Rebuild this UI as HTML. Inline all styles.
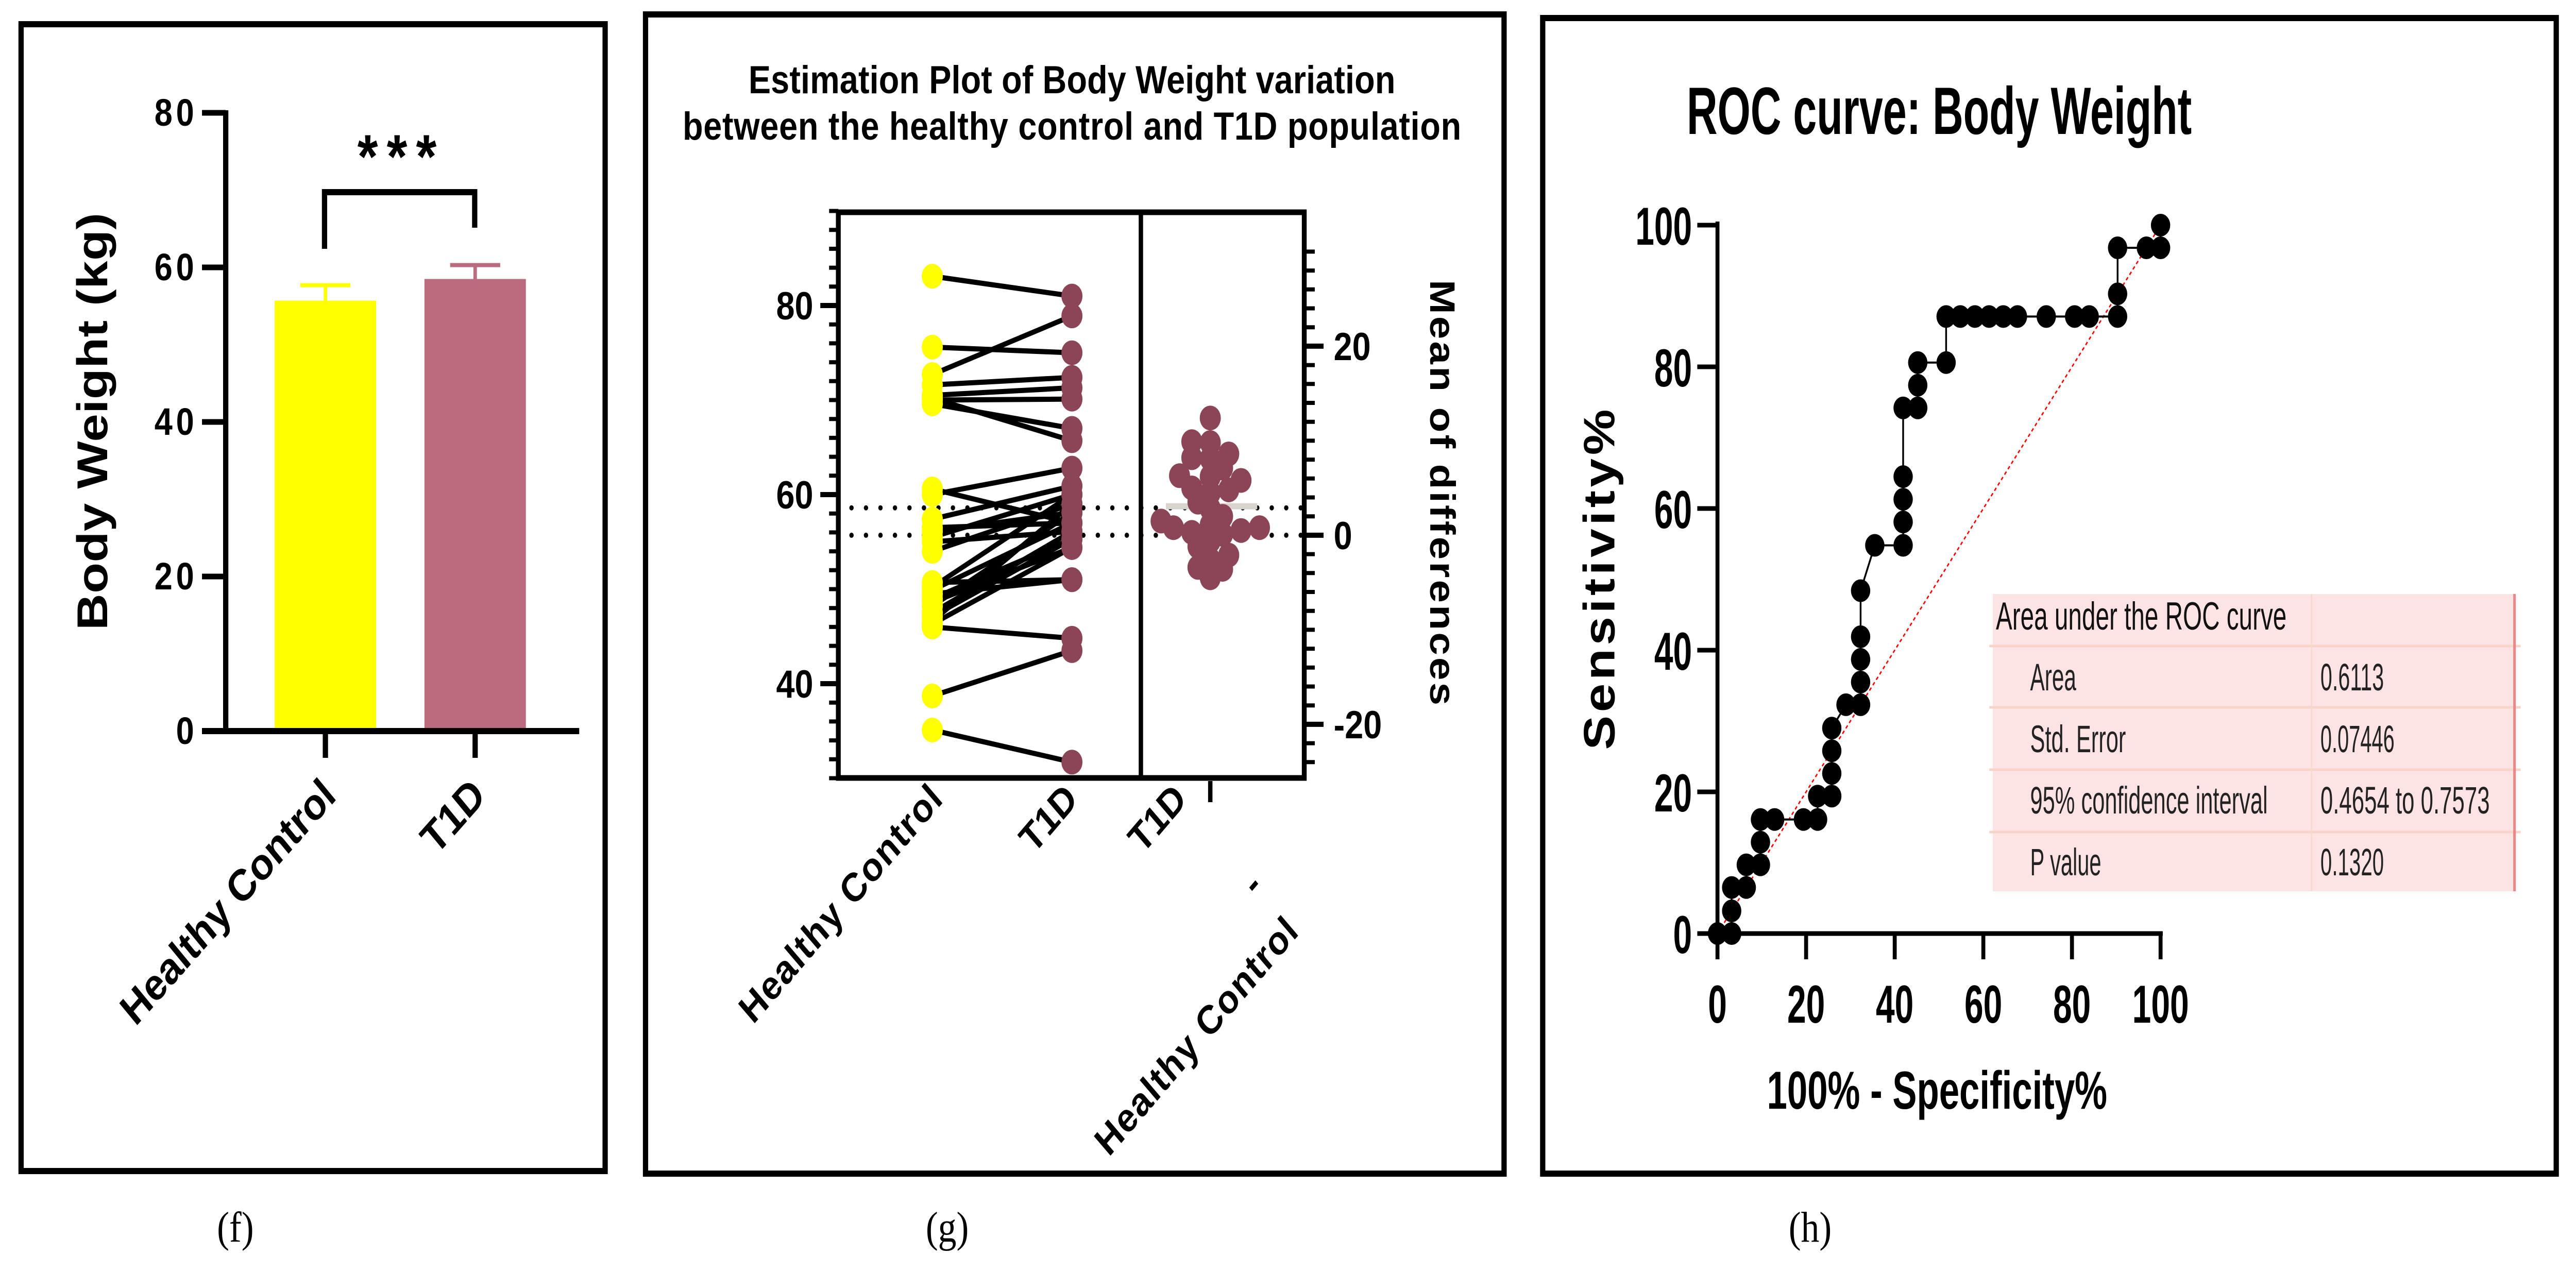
<!DOCTYPE html>
<html><head><meta charset="utf-8"><meta name="viewport" content="width=device-width, initial-scale=1"><style>
html,body{margin:0;padding:0;background:#fff;width:100%;height:100%;overflow:hidden;}
svg{display:block;width:100vw;height:100vh;}
text{font-family:"Liberation Sans",sans-serif;}
</style></head><body>
<svg id="fig" viewBox="0 0 5866 2467" preserveAspectRatio="none" xmlns="http://www.w3.org/2000/svg">
<rect x="0" y="0" width="5866" height="2467" fill="#fff"/>
<rect x="48" y="47" width="1330" height="2226" fill="none" stroke="#000" stroke-width="12"/>
<rect x="1470" y="28" width="1955" height="2250" fill="none" stroke="#000" stroke-width="12"/>
<rect x="3513" y="35" width="2308" height="2243" fill="none" stroke="#000" stroke-width="12"/>
<text x="536" y="2410" font-size="84" text-anchor="middle" style="font-family:'Liberation Serif',serif">(f)</text>
<text x="2157" y="2410" font-size="84" text-anchor="middle" style="font-family:'Liberation Serif',serif">(g)</text>
<text x="4122" y="2410" font-size="84" text-anchor="middle" style="font-family:'Liberation Serif',serif">(h)</text>

<g id="pf"></g>
<g id="pg">
<text x="2441" y="181" font-size="76" font-weight="bold" text-anchor="middle" textLength="1473">Estimation Plot of Body Weight variation</text>
<text x="2441" y="271" font-size="76" font-weight="bold" text-anchor="middle" textLength="1773">between the healthy control and T1D population</text>
</g>
<g id="ph">
<text x="3841" y="260" font-size="130" font-weight="bold" textLength="1150" lengthAdjust="spacingAndGlyphs">ROC curve: Body Weight</text>
</g>
</svg>
<script>
const NS="http://www.w3.org/2000/svg";
function mk(p,tag,a,txt){const e=document.createElementNS(NS,tag);for(const k in a)e.setAttribute(k,a[k]);if(txt!==undefined)e.textContent=txt;p.appendChild(e);return e;}

/* ---------- Panel f data ---------- */
const barCategories=["Healthy Control","T1D"];
const barMeans=[55.7,58.5];
const barErrors=[2.0,1.8];
const barColors=["#ffff00","#bb6b7e"];
const barTicks=[0,20,40,60,80];

/* ---------- Panel g data ---------- */
const hcWeights=[83.1,75.6,72.7,71.6,70.5,70.0,69.6,70.2,60.6,60.0,57.4,56.1,55.0,54.0,50.7,50.2,49.9,49.0,48.6,48.2,47.5,47.1,46.6,46.0,38.7,35.1,46.3,49.5,56.5,55.5];
const t1dWeights=[81.0,75.0,78.9,72.4,71.3,70.1,67.0,65.7,57.0,62.8,60.9,58.1,56.1,59.0,51.0,60.0,57.0,55.3,54.4,58.1,56.1,55.3,59.0,44.8,43.5,31.7,54.4,51.0,57.0,60.0];
const groupMeans=[55.7,58.6];
const leftTicks=[40,60,80];
const rightTicks=[-20,0,20];

/* ---------- Panel h data ---------- */
const rocFpr=[0,3.2,3.2,3.2,6.5,6.5,9.7,9.7,9.7,12.9,19.4,22.6,22.6,25.8,25.8,25.8,25.8,29,32.3,32.3,32.3,32.3,32.3,35.5,41.9,41.9,41.9,41.9,41.9,45.2,45.2,45.2,51.6,51.6,54.8,58.1,61.3,64.5,67.7,74.2,80.6,83.9,90.3,90.3,90.3,96.8,100,100];
const rocTpr=[0,0,3.2,6.5,6.5,9.7,9.7,12.9,16.1,16.1,16.1,16.1,19.4,19.4,22.6,25.8,29,32.3,32.3,35.5,38.7,41.9,48.4,54.8,54.8,58.1,61.3,64.5,74.2,74.2,77.4,80.6,80.6,87.1,87.1,87.1,87.1,87.1,87.1,87.1,87.1,87.1,87.1,90.3,96.8,96.8,96.8,100];
const rocTicks=[0,20,40,60,80,100];
const aucRows=["Area","Std. Error","95% confidence interval","P value"];
const aucValues=["0.6113","0.07446","0.4654 to 0.7573","0.1320"];

/* ===== Panel f ===== */
(function(){
const g=document.getElementById('pf');
const y=v=>1419-v*15;
const xc=[741,1082], bw=231;
let e;
e=mk(g,'line',{x1:514,y1:214,x2:514,y2:1425,stroke:'#000','stroke-width':12});

e=mk(g,'line',{x1:460,y1:1419,x2:1319,y2:1419,stroke:'#000','stroke-width':12});

barTicks.forEach(t=>{
 e=mk(g,'line',{x1:460,y1:y(t),x2:514,y2:y(t),stroke:'#000','stroke-width':11});
 
 e=mk(g,'text',{x:450,y:y(t)+25,'font-size':74,'font-weight':'bold','text-anchor':'end','letter-spacing':8},String(t));
 
});
barCategories.forEach((c,i)=>{
 e=mk(g,'rect',{x:xc[i]-bw/2,y:y(barMeans[i]),width:bw,height:y(0)-y(barMeans[i])-6,fill:barColors[i]});
 
 const top=y(barMeans[i]+barErrors[i]);
 e=mk(g,'line',{x1:xc[i],y1:y(barMeans[i]),x2:xc[i],y2:top,stroke:barColors[i],'stroke-width':8});
 
 e=mk(g,'line',{x1:xc[i]-57,y1:top,x2:xc[i]+57,y2:top,stroke:barColors[i],'stroke-width':8});
 
 e=mk(g,'line',{x1:xc[i],y1:1419,x2:xc[i],y2:1471,stroke:'#000','stroke-width':12});
 
 e=mk(g,'text',{x:0,y:0,'font-size':86,'font-weight':'bold','text-anchor':'end',transform:`translate(${xc[i]+28},${1549}) rotate(-44)`},c);
 
});
e=mk(g,'path',{d:'M739,483 V373 H1081 V442',fill:'none',stroke:'#000','stroke-width':12});

e=mk(g,'text',{x:914,y:345,'font-size':120,'font-weight':'bold','text-anchor':'middle','letter-spacing':20},'***');

e=mk(g,'text',{x:0,y:0,'font-size':98,'font-weight':'bold','text-anchor':'middle',textLength:810,transform:'translate(244,818) rotate(-90)'},'Body Weight (kg)');

})();

/* ===== Panel g ===== */
(function(){
const g=document.getElementById('pg');
const y=v=>960-(v-60)*18.35;
const zeroY=y(groupMeans[0]);
const yd=d=>zeroY-d*18.35;
const xHC=2123,xT=2441,xD=2756;
let e;
e=mk(g,'rect',{x:1909,y:412,width:1061,height:1098,fill:'none',stroke:'#000','stroke-width':11});

e=mk(g,'line',{x1:2598,y1:412,x2:2598,y2:1510,stroke:'#000','stroke-width':10});

for(let v=30;v<=90;v+=2){
 const major=leftTicks.includes(v);
 e=mk(g,'line',{x1:major?1868:1888,y1:y(v),x2:1909,y2:y(v),stroke:'#000','stroke-width':major?10:8});
 
}
leftTicks.forEach(t=>{
 e=mk(g,'text',{x:1852,y:y(t)+27,'font-size':76,'font-weight':'bold','text-anchor':'end'},String(t));
 
});
for(let d=-24;d<=30;d+=2){
 const yy=yd(d); if(yy<412||yy>1510)continue;
 const major=rightTicks.includes(d);
 e=mk(g,'line',{x1:2970,y1:yy,x2:major?3014:2994,y2:yy,stroke:'#000','stroke-width':major?10:8});
 
}
rightTicks.forEach(t=>{
 e=mk(g,'text',{x:3037,y:yd(t)+27,'font-size':76,'font-weight':'bold'},String(t));
 
});
e=mk(g,'text',{x:0,y:0,'font-size':80,'font-weight':'bold','text-anchor':'middle',textLength:826,transform:'translate(3257,956) rotate(90)'},'Mean of differences');

groupMeans.forEach(m=>{
 e=mk(g,'line',{x1:1939,y1:y(m),x2:2970,y2:y(m),stroke:'#000','stroke-width':10,'stroke-dasharray':'0 33','stroke-linecap':'round'});
 
});
const diffs=hcWeights.map((h,i)=>t1dWeights[i]-h);
const md=diffs.reduce((a,b)=>a+b,0)/diffs.length;
e=mk(g,'line',{x1:2655,y1:yd(md),x2:2863,y2:yd(md),stroke:'#d8d4cc','stroke-width':12});

hcWeights.forEach((h,i)=>{
 e=mk(g,'line',{x1:xHC,y1:y(h),x2:xT,y2:y(t1dWeights[i]),stroke:'#000','stroke-width':10});
 
});
hcWeights.forEach(h=>{
 e=mk(g,'circle',{cx:xHC,cy:y(h),r:24,fill:'#ffff00'});
 
});
t1dWeights.forEach(t=>{
 e=mk(g,'circle',{cx:xT,cy:y(t),r:24,fill:'#8b4556'});
 
});
const placed=[];
const order=diffs.map((d,i)=>i).sort((a,b)=>diffs[a]-diffs[b]);
order.forEach(i=>{
 const cy=yd(diffs[i]);
 let best=null;
 for(let k=0;k<20;k++){
  const off=(k%2?1:-1)*Math.ceil(k/2)*14;
  const cx=xD+off;
  if(placed.every(p=>Math.hypot(p[0]-cx,p[1]-cy)>=30)){best=cx;break;}
 }
 if(best===null)best=xD;
 placed.push([best,cy]);
 e=mk(g,'circle',{cx:best,cy:cy,r:24,fill:'#8b4556'});
 
});
e=mk(g,'line',{x1:xD,y1:1516,x2:xD,y2:1557,stroke:'#000','stroke-width':10});

const labs=[["Healthy Control",2150,1555,615],["T1D",2458,1555,0],["T1D",2706,1555,0],["Healthy Control",2960,1812,615]];
labs.forEach(l=>{
 const a={x:0,y:0,'font-size':78,'font-weight':'bold','text-anchor':'end',transform:`translate(${l[1]},${l[2]}) rotate(-45)`};
 if(l[3])a.textLength=l[3];
 e=mk(g,'text',a,l[0]);
 
});
e=mk(g,'text',{x:2858,y:1738,'font-size':78,'font-weight':'bold','text-anchor':'middle',transform:'rotate(-45 2858 1722)'},'-');

})();

/* ===== Panel h ===== */
(function(){
const g=document.getElementById('ph');
const X=v=>3911+v*10.09, Y=v=>1812-v*13.75;
let e;
e=mk(g,'line',{x1:3911,y1:430,x2:3911,y2:1818,stroke:'#000','stroke-width':9});

e=mk(g,'line',{x1:3905,y1:1812,x2:4925,y2:1812,stroke:'#000','stroke-width':9});

rocTicks.forEach(t=>{
 e=mk(g,'line',{x1:3865,y1:Y(t),x2:3911,y2:Y(t),stroke:'#000','stroke-width':9});
 
 e=mk(g,'text',{x:3853,y:Y(t)+38,'font-size':104,'font-weight':'bold','text-anchor':'end',textLength:String(t).length*43,lengthAdjust:'spacingAndGlyphs'},String(t));
 
 e=mk(g,'line',{x1:X(t),y1:1812,x2:X(t),y2:1862,stroke:'#000','stroke-width':9});
 
 e=mk(g,'text',{x:X(t),y:1985,'font-size':104,'font-weight':'bold','text-anchor':'middle',textLength:String(t).length*43,lengthAdjust:'spacingAndGlyphs'},String(t));
 
});
e=mk(g,'text',{x:4411,y:2152,'font-size':104,'font-weight':'bold','text-anchor':'middle',textLength:775,lengthAdjust:'spacingAndGlyphs'},'100% - Specificity%');

e=mk(g,'text',{x:0,y:0,'font-size':100,'font-weight':'bold','text-anchor':'middle',textLength:661,transform:'translate(3676,1125) rotate(-90)'},'Sensitivity%');

e=mk(g,'line',{x1:X(0),y1:Y(0),x2:X(100),y2:Y(100),stroke:'#ff0000','stroke-width':3,'stroke-dasharray':'7 6'});

e=mk(g,'polyline',{points:rocFpr.map((f,i)=>X(f)+','+Y(rocTpr[i])).join(' '),fill:'none',stroke:'#000','stroke-width':4});

rocFpr.forEach((f,i)=>{
 e=mk(g,'circle',{cx:X(f),cy:Y(rocTpr[i]),r:22,fill:'#000'});
 
});
const tb=mk(g,'g',{});

e=mk(tb,'rect',{x:4538,y:1153,width:1190,height:577,fill:'#fde3e4'});

[1254,1373,1494,1615].forEach(yy=>{
 e=mk(tb,'line',{x1:4530,y1:yy,x2:5740,y2:yy,stroke:'#f8d4c8','stroke-width':5});
 
});
e=mk(tb,'line',{x1:5264,y1:1153,x2:5264,y2:1730,stroke:'#f8d8cc','stroke-width':3});

e=mk(tb,'line',{x1:5726,y1:1153,x2:5726,y2:1730,stroke:'#e88888','stroke-width':6});

e=mk(tb,'text',{x:4545,y:1222,'font-size':76,fill:'#111',textLength:662,lengthAdjust:'spacingAndGlyphs'},'Area under the ROC curve');

const rowY=[1340,1460,1579,1699];
const lw=[105,218,541,162];
aucRows.forEach((r,i)=>{
 e=mk(tb,'text',{x:4623,y:rowY[i],'font-size':74,fill:'#222',textLength:lw[i],lengthAdjust:'spacingAndGlyphs'},r);
 
 e=mk(tb,'text',{x:5284,y:rowY[i],'font-size':74,fill:'#222',textLength:aucValues[i].length*24.1,lengthAdjust:'spacingAndGlyphs'},aucValues[i]);
 
});
})();
</script>
</body></html>
